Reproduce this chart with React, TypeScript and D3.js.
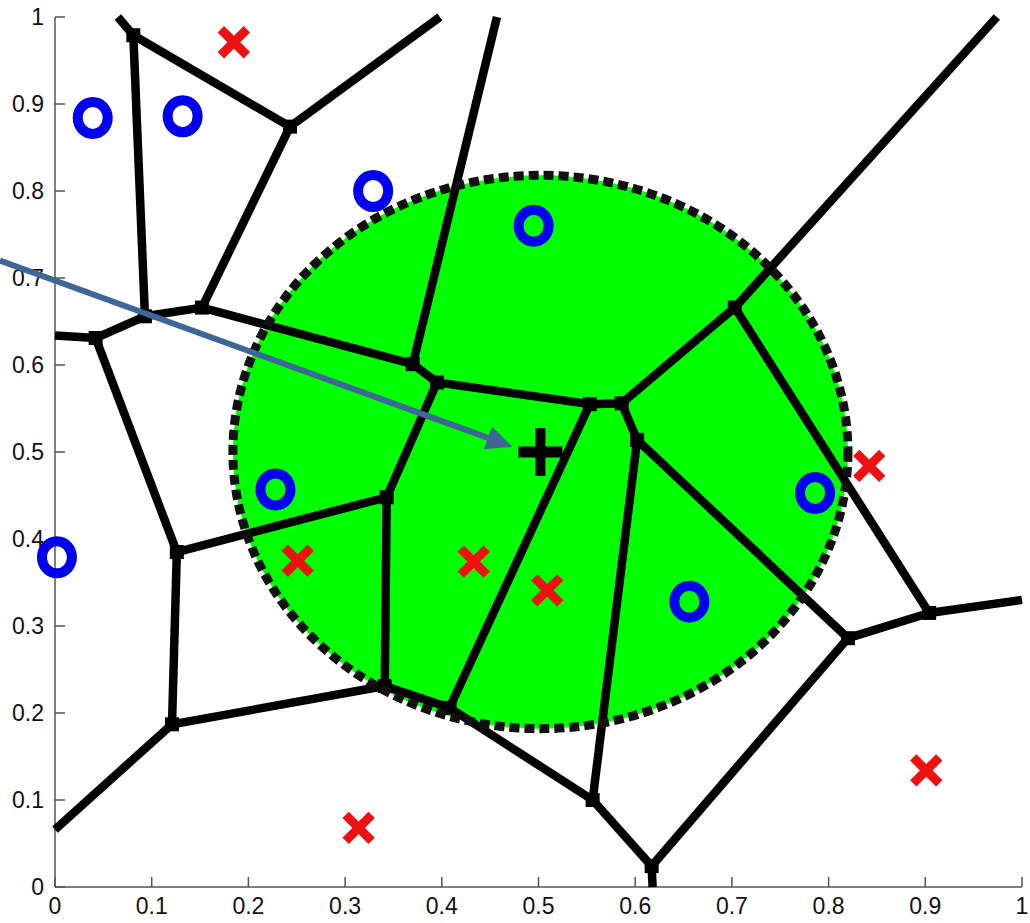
import * as d3 from 'd3';

// plot frame (pixels)
const W = 1030;
const H = 923;
const left = 55;
const right = 1022;
const top = 17;
const bottom = 887;

const xTicks = [0, 0.1, 0.2, 0.3, 0.4, 0.5, 0.6, 0.7, 0.8, 0.9, 1];
const yTicks = [0, 0.1, 0.2, 0.3, 0.4, 0.5, 0.6, 0.7, 0.8, 0.9, 1];

// voronoi vertices: [name, x, y, isBoundary]
const vertices: [string, number, number, boolean][] = [
  ['A', 0.081, 0.979, false],
  ['B', 0.243, 0.874, false],
  ['C', 0.093, 0.656, false],
  ['D', 0.152, 0.666, false],
  ['E', 0.042, 0.631, false],
  ['F', 0.37, 0.601, false],
  ['G', 0.395, 0.58, false],
  ['H', 0.553, 0.555, false],
  ['I', 0.586, 0.556, false],
  ['J', 0.602, 0.514, false],
  ['K', 0.703, 0.666, false],
  ['L', 0.343, 0.448, false],
  ['M', 0.126, 0.385, false],
  ['N', 0.121, 0.187, false],
  ['O', 0.341, 0.231, false],
  ['P', 0.408, 0.206, false],
  ['Q', 0.556, 0.1, false],
  ['R', 0.617, 0.024, false],
  ['S', 0.82, 0.286, false],
  ['T', 0.904, 0.315, false],
  ['t1', 0.065, 1.0, true],
  ['t2', 0.398, 1.0, true],
  ['t3', 0.457, 1.0, true],
  ['t4', 0.974, 1.0, true],
  ['l1', 0.0, 0.634, true],
  ['l2', 0.0, 0.066, true],
  ['r1', 1.0, 0.33, true],
  ['b1', 0.618, 0.0, true],
];

const edges: [string, string][] = [
  ['A', 't1'], ['A', 'B'], ['A', 'C'], ['B', 'D'], ['B', 't2'],
  ['C', 'D'], ['C', 'E'], ['E', 'l1'], ['D', 'F'], ['F', 't3'],
  ['F', 'G'], ['G', 'H'], ['H', 'I'], ['I', 'K'], ['K', 't4'],
  ['K', 'T'], ['I', 'J'], ['J', 'Q'], ['J', 'S'], ['H', 'P'],
  ['G', 'L'], ['L', 'M'], ['L', 'O'], ['E', 'M'], ['M', 'N'],
  ['N', 'O'], ['N', 'l2'], ['O', 'P'], ['P', 'Q'], ['Q', 'R'],
  ['R', 'b1'], ['R', 'S'], ['S', 'T'], ['T', 'r1'],
];

const bluePoints: [number, number][] = [
  [0.039, 0.884], [0.132, 0.886], [0.329, 0.8], [0.495, 0.76],
  [0.228, 0.457], [0.002, 0.379], [0.786, 0.453], [0.656, 0.328],
];

const redPoints: [number, number][] = [
  [0.185, 0.971], [0.251, 0.375], [0.433, 0.374], [0.509, 0.341],
  [0.842, 0.484], [0.901, 0.134], [0.314, 0.068],
];

const query: [number, number] = [0.502, 0.5];
const queryRadius = 0.318;

// annotation arrow, data coords
const arrowFrom: [number, number] = [-0.057, 0.72];
const arrowTo: [number, number] = [0.473, 0.506];

export default function App() {
  const x = d3.scaleLinear().domain([0, 1]).range([left, right]);
  const y = d3.scaleLinear().domain([0, 1]).range([bottom, top]);

  const vmap = new Map(vertices.map((v) => [v[0], v]));
  const line = d3.line<[number, number]>().x((d) => x(d[0])).y((d) => y(d[1]));

  const x1 = x(arrowFrom[0]);
  const y1 = y(arrowFrom[1]);
  const x2 = x(arrowTo[0]);
  const y2 = y(arrowTo[1]);
  const ang = Math.atan2(y2 - y1, x2 - x1);
  const headLen = 26;
  const headW = 12;
  const bx = x2 - headLen * Math.cos(ang);
  const by = y2 - headLen * Math.sin(ang);
  const head = [
    [x2, y2],
    [bx + headW * Math.sin(ang), by - headW * Math.cos(ang)],
    [bx - headW * Math.sin(ang), by + headW * Math.cos(ang)],
  ];

  const font = '"Liberation Sans", Arial, Helvetica, sans-serif';
  const xs = 13;

  return (
    <svg
      width={W}
      height={H}
      style={{ position: 'absolute', left: 0, top: 0, background: '#fff' }}
    >
      {/* axes */}
      <g stroke="#555" strokeWidth={1.5} fill="none">
        <line x1={left} y1={bottom} x2={right} y2={bottom} />
        <line x1={left} y1={bottom} x2={left} y2={top} />
        {xTicks.map((t) => (
          <line key={'xt' + t} x1={x(t)} x2={x(t)} y1={bottom} y2={bottom - 10} />
        ))}
        {yTicks.map((t) => (
          <line key={'yt' + t} x1={left} x2={left + 10} y1={y(t)} y2={y(t)} />
        ))}
      </g>
      <g fontFamily={font} fontSize={23} fill="#111">
        {xTicks.map((t) => (
          <text key={'xl' + t} x={x(t)} y={bottom + 27} textAnchor="middle">
            {String(t)}
          </text>
        ))}
        {yTicks.map((t) => (
          <text key={'yl' + t} x={left - 11} y={y(t) + 8} textAnchor="end">
            {String(t)}
          </text>
        ))}
      </g>

      {/* query region */}
      <ellipse
        cx={x(query[0])}
        cy={y(query[1])}
        rx={x(queryRadius) - x(0)}
        ry={y(0) - y(queryRadius)}
        fill="#00ff00"
      />

      {/* voronoi edges */}
      <g stroke="#000" strokeWidth={8.5} fill="none" strokeLinecap="butt">
        {edges.map(([a, b]) => {
          const va = vmap.get(a)!;
          const vb = vmap.get(b)!;
          return (
            <path
              key={a + b}
              d={line([[va[1], va[2]], [vb[1], vb[2]]]) ?? ''}
            />
          );
        })}
      </g>
      <g fill="#000">
        {vertices
          .filter((v) => !v[3])
          .map((v) => (
            <rect key={v[0]} x={x(v[1]) - 7} y={y(v[2]) - 7} width={14} height={14} />
          ))}
      </g>

      <ellipse
        cx={x(query[0])}
        cy={y(query[1])}
        rx={x(queryRadius) - x(0)}
        ry={y(0) - y(queryRadius)}
        fill="none"
        stroke="#111"
        strokeWidth={9}
        strokeDasharray="10 5"
      />

      {/* sites */}
      <g fill="none" stroke="#0000ee" strokeWidth={10}>
        {bluePoints.map((p, i) => (
          <ellipse key={'b' + i} cx={x(p[0])} cy={y(p[1])} rx={15} ry={16} />
        ))}
      </g>
      <g stroke="#ee1111" strokeWidth={9}>
        {redPoints.map((p, i) => (
          <g key={'r' + i}>
            <line x1={x(p[0]) - xs} y1={y(p[1]) - xs} x2={x(p[0]) + xs} y2={y(p[1]) + xs} />
            <line x1={x(p[0]) - xs} y1={y(p[1]) + xs} x2={x(p[0]) + xs} y2={y(p[1]) - xs} />
          </g>
        ))}
      </g>

      {/* query point */}
      <g stroke="#000">
        <line x1={x(query[0]) - 22} x2={x(query[0]) + 22} y1={y(query[1])} y2={y(query[1])} strokeWidth={11} />
        <line x1={x(query[0])} x2={x(query[0])} y1={y(query[1]) - 24} y2={y(query[1]) + 24} strokeWidth={10} />
      </g>

      {/* arrow */}
      <line x1={x1} y1={y1} x2={bx} y2={by} stroke="#3f6698" strokeWidth={6} />
      <polygon points={head.map((p) => p.join(',')).join(' ')} fill="#3f6698" />
    </svg>
  );
}
